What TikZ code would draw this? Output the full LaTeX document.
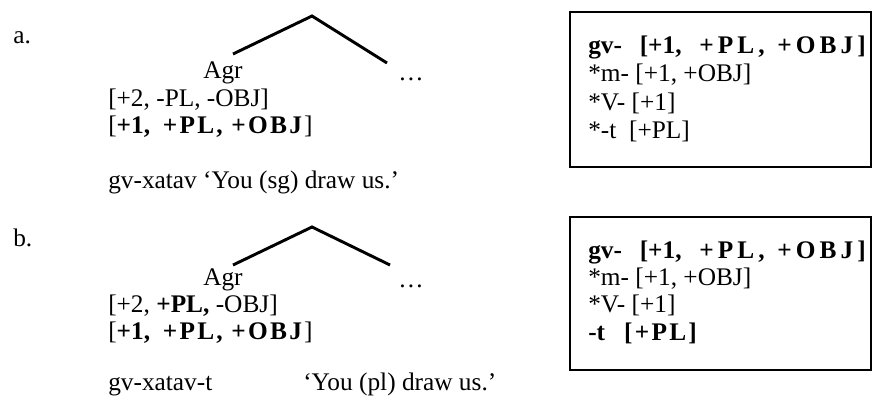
\documentclass[tikz,border=0pt]{standalone}
\usepackage{fontspec}
\setmainfont{Liberation Serif}
\newfontfamily\spcfont[LetterSpace=9]{Liberation Serif}
\newfontfamily\widefont[LetterSpace=16]{Liberation Serif}

\newcommand{\goalfeat}{[\textbf{+1,\ \ {\spcfont\bfseries +PL,\ +OBJ}}]}
\newcommand{\goalbox}{\textbf{gv-\hspace{0.7em}[+1,\hspace{0.7em}{\widefont\bfseries +PL,\hspace{0.5em}+OBJ]}}}

\begin{document}
\begin{tikzpicture}[x=0.75pt,y=-0.75pt,
    font=\fontsize{19}{23}\selectfont,
    txt/.style={anchor=base west, inner sep=0pt},
    branch/.style={line width=2.2pt},
    frame/.style={line width=1.5pt}]
    \useasboundingbox (0,0) rectangle (877,407);

    % (a)
    \node[txt] (labA) at (13,43) {a.};
    \coordinate (topA) at (312,16);
    \coordinate (leftA) at (233,54);
    \coordinate (rightA) at (387,63);
    \draw[branch] (leftA) -- (topA) -- (rightA);
    \node[txt] (agrA) at (203,78) {Agr};
    \node[txt] (dotsA) at (398,80) {…};
    \node[txt] (featA) at (108,106) {[+2, -PL, -OBJ]};
    \node[txt] (goalA) at (108,133) {\goalfeat};
    \node[txt] (formA) at (108,188) {gv-xatav ‘You (sg) draw us.’};

    \draw[frame] (570,12) rectangle (871,167);
    \node[txt] (gvA) at (588,53) {\goalbox};
    \node[txt] (mA) at (588,81) {*m- [+1, +OBJ]};
    \node[txt] (vA) at (588,110) {*V- [+1]};
    \node[txt] (tA) at (588,138) {*-t\ \ [+PL]};

    % (b)
    \node[txt] (labB) at (13,246) {b.};
    \coordinate (topB) at (312,227);
    \coordinate (leftB) at (233,265);
    \coordinate (rightB) at (390,265);
    \draw[branch] (leftB) -- (topB) -- (rightB);
    \node[txt] (agrB) at (203,285) {Agr};
    \node[txt] (dotsB) at (398,287) {…};
    \node[txt] (featB) at (108,312) {[+2, \textbf{+PL,} -OBJ]};
    \node[txt] (goalB) at (108,339) {\goalfeat};
    \node[txt] (formB) at (108,390) {gv-xatav-t};
    \node[txt] (glossB) at (303,390) {‘You (pl) draw us.’};

    \draw[frame] (570,217) rectangle (871,370);
    \node[txt] (gvB) at (588,258) {\goalbox};
    \node[txt] (mB) at (588,285) {*m- [+1, +OBJ]};
    \node[txt] (vB) at (588,312) {*V- [+1]};
    \node[txt] (tB) at (588,340) {\textbf{-t\ \ \ {\spcfont\bfseries [+PL]}}};
\end{tikzpicture}
\end{document}
